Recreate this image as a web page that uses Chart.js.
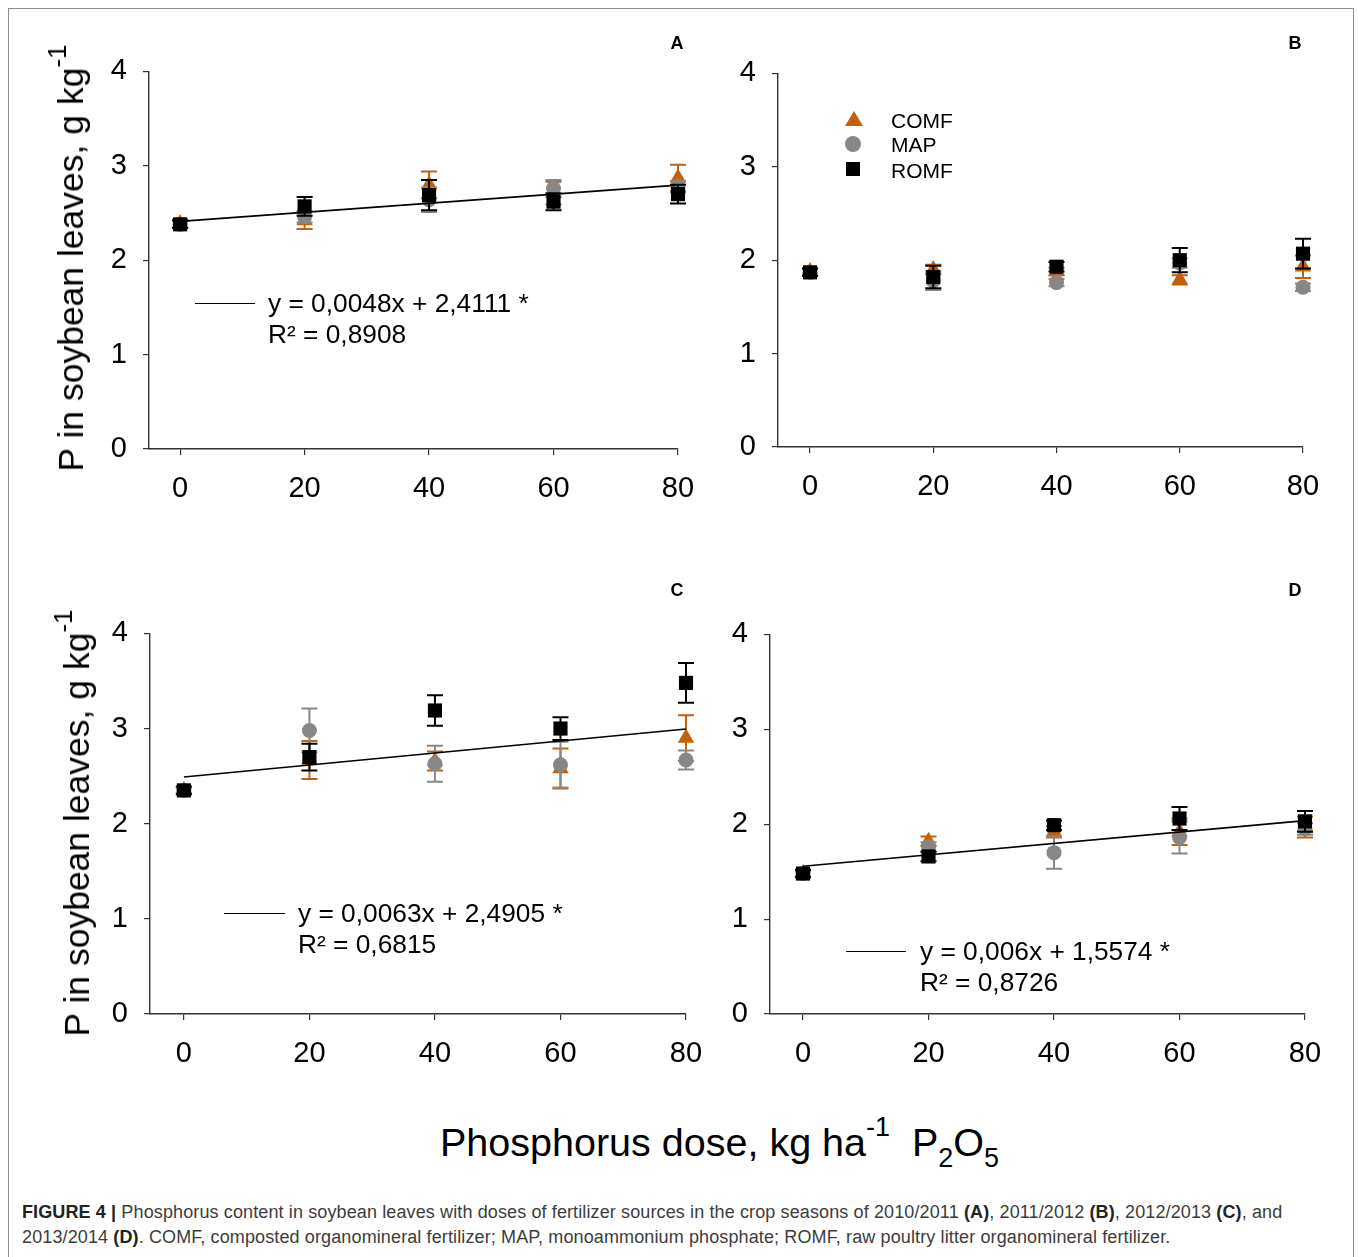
<!DOCTYPE html>
<html>
<head>
<meta charset="utf-8">
<script src="https://cdn.jsdelivr.net/npm/chart.js@4.4.0/dist/chart.umd.min.js"></script>
<style>
  html,body{margin:0;padding:0;background:#fff;}
  body{width:1358px;height:1257px;overflow:hidden;position:relative;font-family:"Liberation Sans",Arial,sans-serif;color:#000;}
  .frame{position:absolute;left:8px;top:8px;width:1346px;height:1270px;border:1px solid #8c8c8c;box-sizing:border-box;}
  canvas{position:absolute;}
  .abs{position:absolute;white-space:nowrap;}
  .ytitle{position:absolute;white-space:nowrap;font-size:35.5px;line-height:36px;transform:translate(-50%,-50%) rotate(-90deg);}
  .ytitle sup{font-size:26px;position:relative;top:-17px;vertical-align:baseline;line-height:0;}
  .letter{position:absolute;font-weight:bold;font-size:18px;line-height:18px;transform:translate(-50%,-50%);}
  .eq{position:absolute;font-size:26.3px;line-height:31px;white-space:nowrap;}
  .seg{position:absolute;height:0;border-top:1.5px solid #000;}
  .xtitle{position:absolute;font-size:39.5px;line-height:40px;white-space:nowrap;}
  .xtitle sup{font-size:27px;vertical-align:baseline;position:relative;top:-20px;line-height:0;}
  .xtitle sub{font-size:27px;vertical-align:baseline;position:relative;top:11px;line-height:0;}
  .leg{position:absolute;font-size:21px;line-height:21px;white-space:nowrap;}
  .caption{position:absolute;left:22px;top:1200px;font-size:18px;line-height:25px;color:#3c3c3c;white-space:nowrap;letter-spacing:0.12px;}
  .caption b{color:#222;}
</style>
</head>
<body>
<div class="frame"></div>

<canvas id="cA"></canvas>
<canvas id="cB"></canvas>
<canvas id="cC"></canvas>
<canvas id="cD"></canvas>

<div class="ytitle" style="left:71px;top:258px;">P in soybean leaves, g kg<sup>-1</sup></div>
<div class="ytitle" style="left:77px;top:823px;">P in soybean leaves, g kg<sup>-1</sup></div>

<div class="letter" style="left:677px;top:43px;">A</div>
<div class="letter" style="left:1295px;top:43px;">B</div>
<div class="letter" style="left:677px;top:590px;">C</div>
<div class="letter" style="left:1295px;top:590px;">D</div>

<div class="seg" style="left:195px;top:303px;width:60px;"></div>
<div class="eq" style="left:268px;top:288px;">y = 0,0048x + 2,4111 *<br>R² = 0,8908</div>
<div class="seg" style="left:224px;top:913px;width:61px;"></div>
<div class="eq" style="left:298px;top:898px;">y = 0,0063x + 2,4905 *<br>R² = 0,6815</div>
<div class="seg" style="left:846px;top:951px;width:60px;"></div>
<div class="eq" style="left:920px;top:936px;">y = 0,006x + 1,5574 *<br>R² = 0,8726</div>

<!-- legend in panel B -->
<div class="abs" style="left:845px;top:111px;width:0;height:0;border-left:9px solid transparent;border-right:9px solid transparent;border-bottom:15px solid #C4600C;"></div>
<div class="abs" style="left:845px;top:136px;width:16px;height:16px;border-radius:50%;background:#878787;"></div>
<div class="abs" style="left:846px;top:162px;width:14px;height:14px;background:#000;"></div>
<div class="leg" style="left:891px;top:110px;">COMF</div>
<div class="leg" style="left:891px;top:134px;">MAP</div>
<div class="leg" style="left:891px;top:160px;">ROMF</div>

<div class="xtitle" style="left:440px;top:1122px;">Phosphorus dose, kg ha<sup>-1</sup>&nbsp; P<sub>2</sub>O<sub>5</sub></div>

<div class="caption"><b>FIGURE 4 |</b> Phosphorus content in soybean leaves with doses of fertilizer sources in the crop seasons of 2010/2011 <b>(A)</b>, 2011/2012 <b>(B)</b>, 2012/2013 <b>(C)</b>, and<br>2013/2014 <b>(D)</b>. COMF, composted organomineral fertilizer; MAP, monoammonium phosphate; ROMF, raw poultry litter organomineral fertilizer.</div>

<script>
// ---------------- data ----------------
const doses = [0, 20, 40, 60, 80];
const xTickValues = [0, 20, 40, 60, 80];
const yTickValues = [0, 1, 2, 3, 4];
const trendDoses = [0, 80];

// Panel A (2010/2011)
const comfA = [2.39, 2.42, 2.80, 2.71, 2.87];
const comfAerr = [0.04, 0.09, 0.14, 0.12, 0.14];
const mapA = [2.38, 2.46, 2.64, 2.76, 2.78];
const mapAerr = [0.04, 0.06, 0.13, 0.09, 0.06];
const romfA = [2.38, 2.57, 2.69, 2.62, 2.70];
const romfAerr = [0.04, 0.10, 0.16, 0.09, 0.10];
const trendA = [2.4111, 2.7951];

// Panel B (2011/2012)
const comfB = [1.88, 1.90, 1.88, 1.79, 1.93];
const comfBerr = [0.03, 0.05, 0.04, 0.05, 0.12];
const mapB = [1.87, 1.78, 1.76, 1.97, 1.71];
const mapBerr = [0.03, 0.10, 0.04, 0.05, 0.04];
const romfB = [1.87, 1.82, 1.93, 2.00, 2.07];
const romfBerr = [0.04, 0.12, 0.05, 0.13, 0.16];

// Panel C (2012/2013)
const comfC = [2.35, 2.67, 2.66, 2.58, 2.90];
const comfCerr = [0.03, 0.20, 0.10, 0.21, 0.24];
const mapC = [2.35, 2.98, 2.63, 2.62, 2.67];
const mapCerr = [0.03, 0.23, 0.19, 0.24, 0.10];
const romfC = [2.35, 2.70, 3.19, 3.00, 3.48];
const romfCerr = [0.04, 0.14, 0.16, 0.12, 0.21];
const trendC = [2.4905, 2.9945];

// Panel D (2013/2014)
const comfD = [1.48, 1.82, 1.92, 1.92, 1.97];
const comfDerr = [0.03, 0.05, 0.06, 0.14, 0.11];
const mapD = [1.48, 1.76, 1.70, 1.86, 1.95];
const mapDerr = [0.03, 0.05, 0.17, 0.17, 0.06];
const romfD = [1.48, 1.66, 1.99, 2.06, 2.03];
const romfDerr = [0.04, 0.05, 0.05, 0.12, 0.11];
const trendD = [1.5574, 2.0374];

// ---------------- styling ----------------
const COL_COMF = '#C4600C';
const COL_MAP = '#878787';
const COL_ROMF = '#000000';
const AXIS_COL = '#333333';

const errorBarPlugin = {
  id: 'errorBars',
  beforeDatasetDraw(chart, args) {
    const ds = chart.data.datasets[args.index];
    if (!ds.errors) return;
    const ctx = chart.ctx, xs = chart.scales.x, ys = chart.scales.y;
    ctx.save();
    ctx.strokeStyle = ds.errorColor;
    ctx.lineWidth = 2;
    ds.data.forEach((p, i) => {
      const e = ds.errors[i];
      const px = xs.getPixelForValue(p.x);
      const top = ys.getPixelForValue(p.y + e);
      const bot = ys.getPixelForValue(p.y - e);
      const cw = 8;
      ctx.beginPath();
      ctx.moveTo(px, top); ctx.lineTo(px, bot);
      ctx.moveTo(px - cw, top); ctx.lineTo(px + cw, top);
      ctx.moveTo(px - cw, bot); ctx.lineTo(px + cw, bot);
      ctx.stroke();
    });
    ctx.restore();
  }
};

function pts(xs, ys) { return xs.map((x, i) => ({x: x, y: ys[i]})); }

function makePanel(id, area, xMin, series, trend) {
  const PADL = 70, PADT = 30, PADR = 40, PADB = 70;
  const cv = document.getElementById(id);
  const W = area.r - area.l + PADL + PADR;
  const H = area.b - area.t + PADT + PADB;
  cv.width = W; cv.height = H;
  cv.style.left = (area.l - PADL) + 'px';
  cv.style.top = (area.t - PADT) + 'px';
  cv.style.width = W + 'px'; cv.style.height = H + 'px';

  const datasets = [];
  if (trend) {
    datasets.push({
      type: 'line', label: 'trend', data: pts(trendDoses, trend),
      borderColor: '#000', borderWidth: 1.6, pointRadius: 0, fill: false,
      showLine: true, order: 0, clip: false
    });
  }
  datasets.push({
    label: 'ROMF', data: pts(doses, series.romf), errors: series.romfErr, errorColor: COL_ROMF,
    pointStyle: 'rect', pointRadius: 10, backgroundColor: COL_ROMF, borderWidth: 0, order: 1, clip: false
  });
  datasets.push({
    label: 'MAP', data: pts(doses, series.map), errors: series.mapErr, errorColor: COL_MAP,
    pointStyle: 'circle', pointRadius: 7.5, backgroundColor: COL_MAP, borderWidth: 0, order: 2, clip: false
  });
  datasets.push({
    label: 'COMF', data: pts(doses, series.comf), errors: series.comfErr, errorColor: COL_COMF,
    pointStyle: 'triangle', pointRadius: 9.5, backgroundColor: COL_COMF, borderWidth: 0, order: 3, clip: false
  });

  const tickFont = {family: '"Liberation Sans", Arial, sans-serif', size: 29};
  new Chart(cv, {
    type: 'scatter',
    data: {datasets},
    options: {
      responsive: false, animation: false, devicePixelRatio: 1,
      layout: {padding: {left: 0, top: PADT, right: PADR, bottom: 0}},
      plugins: {legend: {display: false}, tooltip: {enabled: false}},
      scales: {
        x: {
          type: 'linear', min: xMin, max: 80,
          afterBuildTicks: s => { s.ticks = xTickValues.map(v => ({value: v})); },
          afterFit: s => { s.height = PADB; },
          grid: {display: true, drawOnChartArea: false, drawTicks: true, tickLength: 6, color: AXIS_COL, lineWidth: 1.2},
          border: {display: true, color: AXIS_COL, width: 1.4},
          ticks: {font: tickFont, color: '#000', padding: 17, maxRotation: 0}
        },
        y: {
          type: 'linear', min: 0, max: 4,
          afterBuildTicks: s => { s.ticks = yTickValues.map(v => ({value: v})); },
          afterFit: s => { s.width = PADL; },
          grid: {display: true, drawOnChartArea: false, drawTicks: true, tickLength: 6, color: AXIS_COL, lineWidth: 1.2},
          border: {display: true, color: AXIS_COL, width: 1.4},
          ticks: {font: tickFont, color: '#000', padding: 16}
        }
      }
    },
    plugins: [errorBarPlugin]
  });
}

makePanel('cA', {l: 149, r: 678, t: 68, b: 449}, -5.0,
  {comf: comfA, comfErr: comfAerr, map: mapA, mapErr: mapAerr, romf: romfA, romfErr: romfAerr}, trendA);
makePanel('cB', {l: 778, r: 1303, t: 70, b: 447}, -5.2,
  {comf: comfB, comfErr: comfBerr, map: mapB, mapErr: mapBerr, romf: romfB, romfErr: romfBerr}, null);
makePanel('cC', {l: 150, r: 686, t: 630, b: 1014}, -5.4,
  {comf: comfC, comfErr: comfCerr, map: mapC, mapErr: mapCerr, romf: romfC, romfErr: romfCerr}, trendC);
makePanel('cD', {l: 770, r: 1305, t: 631, b: 1014}, -5.26,
  {comf: comfD, comfErr: comfDerr, map: mapD, mapErr: mapDerr, romf: romfD, romfErr: romfDerr}, trendD);
</script>
</body>
</html>
